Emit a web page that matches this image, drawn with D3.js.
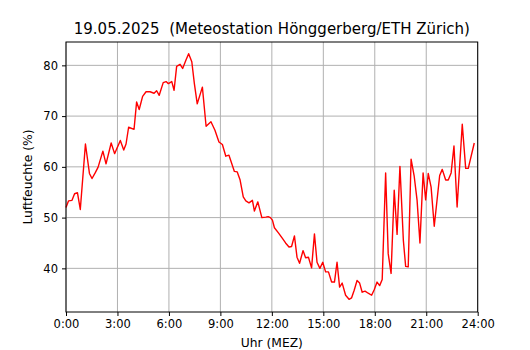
<!DOCTYPE html>
<html>
<head>
  <meta charset="utf-8">
  <title>Luftfeuchte 19.05.2025</title>
  <script src="https://d3js.org/d3.v7.min.js"></script>
  <style>
    body { margin: 0; background: white; }
    svg text { font-family: "DejaVu Sans", sans-serif; fill: #000; }
    .grid line { stroke: #b0b0b0; stroke-width: 1; }
  </style>
</head>
<body>
  <div id="chart"></div>
  <script>
    // time of day in minutes
    var minutes = [0, 9, 21, 30, 40, 50, 68, 82, 91, 102, 112, 129, 140, 158, 170, 190, 202, 210,
      219, 238, 247, 256, 268, 280, 294, 308, 317, 326, 340, 350, 358, 370, 378, 387, 399, 408,
      420, 429, 440, 449, 459, 477, 490, 507, 521, 535, 547, 559, 570, 589, 599, 609, 620, 629,
      640, 652, 659, 671, 685, 699, 707, 715, 722, 729, 743, 757, 768, 780, 789, 799, 808, 817,
      829, 838, 848, 859, 869, 878, 888, 898, 908, 918, 929, 939, 948, 957, 966, 978, 990, 999,
      1008, 1018, 1027, 1036, 1046, 1057, 1069, 1078, 1088, 1097, 1106, 1118, 1127, 1137, 1148,
      1158, 1168, 1180, 1188, 1197, 1207, 1218, 1228, 1238, 1249, 1258, 1267, 1277, 1288, 1307,
      1316, 1328, 1337, 1347, 1357, 1368, 1386, 1398, 1407, 1428];
    // relative humidity in %
    var humidity = [52.0, 53.3, 53.4, 54.7, 54.9, 51.6, 64.5, 58.7, 57.7, 58.8, 59.9, 63.1, 60.6,
      64.7, 62.6, 65.2, 63.3, 64.5, 67.8, 67.4, 72.8, 71.3, 73.9, 74.8, 74.8, 74.5, 75.0, 74.1,
      76.6, 76.8, 76.4, 76.8, 75.1, 79.8, 80.2, 79.4, 81.1, 82.3, 80.7, 76.4, 72.4, 75.7, 68.0,
      68.9, 67.2, 64.9, 64.4, 62.1, 62.3, 59.1, 59.0, 57.4, 54.1, 53.3, 52.9, 53.4, 51.3, 53.1,
      50.0, 50.1, 50.2, 50.0, 49.5, 48.0, 47.0, 45.9, 45.0, 44.2, 44.3, 46.4, 42.2, 41.0, 43.5,
      42.1, 42.2, 40.1, 46.8, 41.2, 40.0, 41.2, 39.3, 39.3, 37.3, 37.3, 41.2, 36.3, 37.1, 34.7,
      33.9, 34.2, 35.7, 37.6, 37.1, 35.3, 35.5, 35.1, 34.7, 35.8, 37.3, 36.6, 37.8, 58.8, 42.9,
      39.0, 55.4, 46.7, 60.1, 45.5, 40.4, 40.3, 61.5, 58.1, 53.4, 45.0, 58.8, 53.5, 58.7, 56.0,
      48.3, 58.3, 59.5, 57.4, 57.4, 58.8, 64.1, 52.1, 68.4, 59.7, 59.7, 64.7];

    var xTicks = [0, 180, 360, 540, 720, 900, 1080, 1260, 1440];
    var xTickLabels = ["0:00", "3:00", "6:00", "9:00", "12:00", "15:00", "18:00", "21:00", "24:00"];
    var yTicks = [40, 50, 60, 70, 80];

    var width = 530, height = 350;
    var margin = {left: 66, right: 52.3, top: 42, bottom: 38};

    var svg = d3.select("#chart").append("svg")
      .attr("width", width)
      .attr("height", height);

    var x = d3.scaleLinear().domain([0, 1440]).range([margin.left, width - margin.right]);
    var y = d3.scaleLinear().domain([31.4, 84.6]).range([height - margin.bottom, margin.top]);

    // grid
    var grid = svg.append("g").attr("class", "grid");
    grid.selectAll("line.v").data(xTicks).enter().append("line")
      .attr("x1", function(d) { return x(d); })
      .attr("x2", function(d) { return x(d); })
      .attr("y1", y.range()[0])
      .attr("y2", y.range()[1]);
    grid.selectAll("line.h").data(yTicks).enter().append("line")
      .attr("x1", x.range()[0])
      .attr("x2", x.range()[1])
      .attr("y1", function(d) { return y(d); })
      .attr("y2", function(d) { return y(d); });

    // humidity line
    var pts = minutes.map(function(m, i) { return [m, humidity[i]]; });
    var line = d3.line()
      .x(function(d) { return x(d[0]); })
      .y(function(d) { return y(d[1]); });
    svg.append("path")
      .datum(pts)
      .attr("fill", "none")
      .attr("stroke", "#ff0000")
      .attr("stroke-width", 1.4)
      .attr("stroke-linejoin", "round")
      .attr("d", line);

    // frame
    svg.append("rect")
      .attr("x", x.range()[0])
      .attr("y", y.range()[1])
      .attr("width", x.range()[1] - x.range()[0])
      .attr("height", y.range()[0] - y.range()[1])
      .attr("fill", "none")
      .attr("stroke", "#000")
      .attr("stroke-width", 1);

    // axes
    var xAxis = svg.append("g")
      .attr("transform", "translate(0," + y.range()[0] + ")")
      .call(d3.axisBottom(x).tickValues(xTicks)
        .tickFormat(function(d, i) { return xTickLabels[i]; })
        .tickSize(4).tickPadding(4));
    var yAxis = svg.append("g")
      .attr("transform", "translate(" + x.range()[0] + ",0)")
      .call(d3.axisLeft(y).tickValues(yTicks).tickSize(4).tickPadding(4));

    [xAxis, yAxis].forEach(function(a) {
      a.select(".domain").remove();
      a.selectAll("text").style("font-size", "11.5px").style("font-family", "DejaVu Sans, sans-serif");
      a.selectAll("line").attr("stroke", "#000");
    });

    // labels
    svg.append("text")
      .attr("x", (x.range()[0] + x.range()[1]) / 2)
      .attr("y", 34)
      .attr("text-anchor", "middle")
      .style("font-size", "15px")
      .attr("xml:space", "preserve")
      .style("white-space", "pre")
      .text("19.05.2025  (Meteostation Hönggerberg/ETH Zürich)");

    svg.append("text")
      .attr("x", (x.range()[0] + x.range()[1]) / 2)
      .attr("y", 346.5)
      .attr("text-anchor", "middle")
      .style("font-size", "12.3px")
      .text("Uhr (MEZ)");

    svg.append("text")
      .attr("transform", "translate(32," + ((y.range()[0] + y.range()[1]) / 2) + ") rotate(-90)")
      .attr("text-anchor", "middle")
      .style("font-size", "12.3px")
      .text("Luftfeuchte (%)");
  </script>
</body>
</html>
